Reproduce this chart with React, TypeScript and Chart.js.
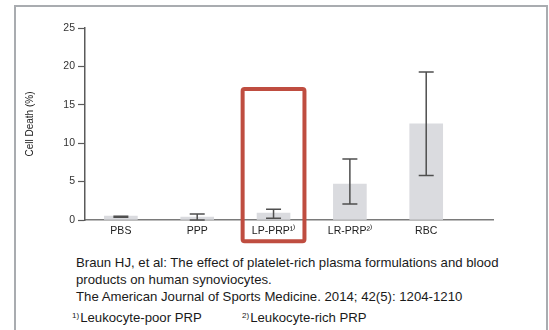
import React, { useEffect, useRef } from 'react';
import { Chart, registerables } from 'chart.js';

Chart.register(...registerables);

// ---- data ----
const categories = ['PBS', 'PPP', 'LP-PRP¹⁾', 'LR-PRP²⁾', 'RBC'];
const meanValues = [0.5, 0.39, 0.91, 4.69, 12.52];
const errorLow = [0.36, 0.0, 0.22, 2.09, 5.78];
const errorHigh = [0.5, 0.78, 1.39, 7.95, 19.26];
const yTickValues = [0, 5, 10, 15, 20, 25];
const yAxisTitle = 'Cell Death (%)';
const highlightIndex = 2;
const highlightTopValue = 17.05;
const citationLines = [
  'Braun HJ, et al: The effect of platelet-rich plasma formulations and blood',
  'products on human synoviocytes.',
  'The American Journal of Sports Medicine. 2014; 42(5): 1204-1210',
];
const footnotes = [
  { mark: '1)', text: 'Leukocyte-poor PRP' },
  { mark: '2)', text: 'Leukocyte-rich PRP' },
];

const FONT = '"Liberation Sans", Arial, Helvetica, sans-serif';

const errorBarPlugin = {
  id: 'errorBars',
  afterDatasetsDraw(chart: any) {
    const { ctx, scales } = chart;
    const x = scales.x;
    const y = scales.y;
    ctx.save();
    ctx.strokeStyle = '#4f4f4f';
    ctx.lineWidth = 1.5;
    const cap = 7.5;
    categories.forEach((_, i) => {
      const px = x.getPixelForValue(i);
      const top = y.getPixelForValue(errorHigh[i]);
      const bot = y.getPixelForValue(errorLow[i]);
      ctx.beginPath();
      ctx.moveTo(px, top);
      ctx.lineTo(px, bot);
      ctx.moveTo(px - cap, top);
      ctx.lineTo(px + cap, top);
      ctx.moveTo(px - cap, bot);
      ctx.lineTo(px + cap, bot);
      ctx.stroke();
    });
    ctx.restore();
  },
};

const highlightPlugin = {
  id: 'highlightBox',
  afterDraw(chart: any) {
    const { ctx, scales } = chart;
    const x = scales.x;
    const y = scales.y;
    const left = x.getPixelForValue(highlightIndex - 0.405);
    const right = x.getPixelForValue(highlightIndex + 0.405);
    const top = y.getPixelForValue(highlightTopValue);
    const bottom = y.getPixelForValue(0) + 21.3;
    ctx.save();
    ctx.strokeStyle = '#bf4d40';
    ctx.lineWidth = 4;
    ctx.beginPath();
    if (ctx.roundRect) ctx.roundRect(left, top, right - left, bottom - top, 2);
    else ctx.rect(left, top, right - left, bottom - top);
    ctx.stroke();
    ctx.restore();
  },
};

export default function App() {
  const canvasRef = useRef<HTMLCanvasElement | null>(null);

  useEffect(() => {
    document.body.style.margin = '0';
    const canvas = canvasRef.current;
    if (!canvas) return;
    const chart = new Chart(canvas, {
      type: 'bar',
      data: {
        datasets: [
          {
            data: meanValues.map((v, i) => ({ x: i, y: v })),
            backgroundColor: '#dadbdf',
            borderWidth: 0,
            barThickness: 33,
          },
        ],
      },
      options: {
        responsive: false,
        maintainAspectRatio: false,
        animation: false,
        devicePixelRatio: 1,
        layout: { padding: { top: 28, right: 56, bottom: 0, left: 0 } },
        plugins: {
          legend: { display: false },
          tooltip: { enabled: false },
        },
        scales: {
          x: {
            type: 'linear',
            min: -0.47,
            max: 4.875,
            offset: false,
            z: 1,
            grid: { display: false, drawTicks: false, offset: false },
            border: { display: true, color: '#7a7a7a', width: 1.5 },
            afterBuildTicks: (scale: any) => {
              scale.ticks = categories.map((_, i) => ({ value: i }));
            },
            afterFit: (scale: any) => {
              scale.height = 30;
            },
            ticks: {
              autoSkip: false,
              maxRotation: 0,
              padding: 5,
              color: '#222',
              font: { family: FONT, size: 10.5 },
              callback: (v: any) => categories[v as number] ?? '',
            },
          },
          y: {
            type: 'linear',
            min: 0,
            max: 25,
            z: 1,
            afterBuildTicks: (scale: any) => {
              scale.ticks = yTickValues.map((v) => ({ value: v }));
            },
            afterFit: (scale: any) => {
              scale.width = 85;
            },
            grid: {
              drawOnChartArea: false,
              drawTicks: true,
              tickLength: 7,
              tickColor: '#5a5a5a',
              tickWidth: 1.2,
            },
            border: { display: true, color: '#5a5a5a', width: 1.5 },
            ticks: {
              padding: 3,
              color: '#333',
              font: { family: FONT, size: 10.5 },
            },
            title: {
              display: true,
              text: yAxisTitle,
              color: '#222',
              font: { family: FONT, size: 10 },
              padding: { top: 24, bottom: 0 },
            },
          },
        },
      },
      plugins: [errorBarPlugin, highlightPlugin],
    } as any);
    return () => chart.destroy();
  }, []);

  const textStyle: React.CSSProperties = {
    position: 'absolute',
    left: 76,
    fontFamily: FONT,
    fontSize: 13.2,
    lineHeight: '17px',
    color: '#1a1a1a',
    whiteSpace: 'nowrap',
  };

  return (
    <div style={{ position: 'fixed', left: 0, top: 0, width: 549, height: 330, background: '#fff', overflow: 'hidden' }}>
      <div
        style={{
          position: 'absolute',
          left: 14,
          top: 5,
          width: 530,
          height: 323,
          border: '2px solid #a9acb0',
        }}
      />
      <canvas
        ref={canvasRef}
        width={549}
        height={250}
        style={{ position: 'absolute', left: 0, top: 0, width: 549, height: 250 }}
      />
      {citationLines.map((line, i) => (
        <div key={i} style={{ ...textStyle, top: 254 + i * 17 }}>
          {line}
        </div>
      ))}
      {footnotes.map((f, i) => (
        <div key={'f' + i} style={{ ...textStyle, left: i === 0 ? 72 : 242, top: 307 }}>
          <span style={{ fontSize: 8, verticalAlign: '4px', marginRight: 1 }}>{f.mark}</span>
          {f.text}
        </div>
      ))}
    </div>
  );
}
